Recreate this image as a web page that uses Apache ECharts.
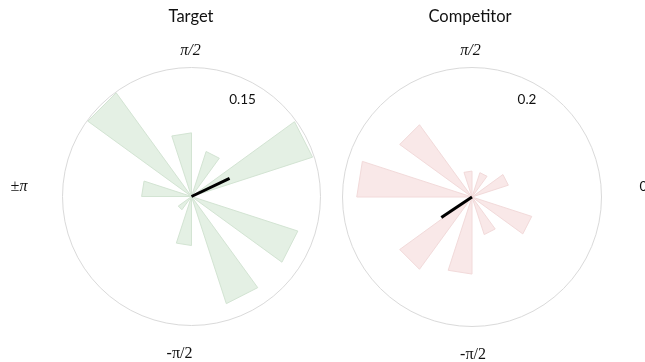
<!DOCTYPE html>
<html>
<head>
<meta charset="utf-8">
<script src="https://cdn.jsdelivr.net/npm/echarts@6/dist/echarts.min.js"></script>
<style>
html,body{margin:0;padding:0;background:#fff;}
#chart{width:645px;height:362px;}
</style>
</head>
<body>
<div id="chart"></div>
<script>
// Bin start angles in degrees (counter-clockwise from 0 = east), 18° wide
const binStarts = [0,18,36,54,72,90,108,126,144,162,180,198,216,234,252,270,288,306,324,342];
const binWidth = 18;
// Relative frequencies per bin
const targetValues     = [0,0.148,0,0.055,0,0.074,0,0.149,0,0.058,0,0,0.019,0,0.057,0,0.131,0,0.130,0];
const competitorValues = [0,0.059,0,0.0395,0,0.040,0,0.138,0,0.178,0,0,0.138,0,0.119,0,0.061,0,0.097,0];
// Mean resultant vectors: [length, angle in degrees]
const targetMean = [0.049, 25.4];
const competitorMean = [0.057, 213.8];
const panelTitles = ['Target', 'Competitor'];
const radiusMax = [0.15, 0.2];
const radiusLabels = ['0.15', '0.2'];
const angleLabels = {top: 'π/2', bottom: '-π/2', left: '±π', right: '0'};

function wedgeData(values) {
  return values.map((v, i) => [v, binStarts[i], binStarts[i] + binWidth]).filter(d => d[0] > 0);
}

function wedgeSeries(polarIndex, values, fill, stroke) {
  return {
    type: 'custom',
    coordinateSystem: 'polar',
    polarIndex: polarIndex,
    data: wedgeData(values),
    renderItem: function (params, api) {
      const r = api.value(0), a0 = api.value(1), a1 = api.value(2);
      const c = api.coord([0, a0]);
      const p1 = api.coord([r, a0]);
      const p2 = api.coord([r, a1]);
      return {
        type: 'polygon',
        shape: {points: [c, p1, p2]},
        style: {fill: fill, stroke: stroke, lineWidth: 1}
      };
    },
    silent: true,
    z: 2
  };
}

function meanSeries(polarIndex, mean) {
  return {
    type: 'line',
    coordinateSystem: 'polar',
    polarIndex: polarIndex,
    data: [[0, mean[1]], [mean[0], mean[1]]],
    symbol: 'none',
    lineStyle: {color: '#000', width: 3},
    silent: true,
    z: 5
  };
}

const centers = [[191.5, 196.5], [472, 197]];
const radii = [129, 129.5];

const chart = echarts.init(document.getElementById('chart'), null, {renderer: 'canvas'});
const textColor = '#111';
const sansFont = 'Lato, "Open Sans", sans-serif';
const serifFont = '"Liberation Serif", "DejaVu Serif", serif';

function txt(text, x, y, font, align) {
  return {
    type: 'text',
    x: x, y: y,
    style: {text: text, fill: textColor, font: font, textAlign: align || 'center', textVerticalAlign: 'middle'},
    z: 10
  };
}

const option = {
  animation: false,
  backgroundColor: '#fff',
  polar: centers.map((c, i) => ({center: c, radius: radii[i]})),
  angleAxis: [0, 1].map(i => ({
    polarIndex: i,
    type: 'value',
    min: 0, max: 360,
    startAngle: 0,
    clockwise: false,
    axisLine: {show: true, lineStyle: {color: '#dadada', width: 1}},
    axisTick: {show: false},
    axisLabel: {show: false},
    splitLine: {show: false}
  })),
  radiusAxis: [0, 1].map(i => ({
    polarIndex: i,
    type: 'value',
    min: 0, max: radiusMax[i],
    axisLine: {show: false},
    axisTick: {show: false},
    axisLabel: {show: false},
    splitLine: {show: false}
  })),
  series: [
    wedgeSeries(0, targetValues, '#e4f0e4', '#d3e4d3'),
    wedgeSeries(1, competitorValues, '#f9e8e8', '#f2dada'),
    meanSeries(0, targetMean),
    meanSeries(1, competitorMean)
  ],
  graphic: [
    txt(panelTitles[0], 191, 17, '16.5px ' + sansFont),
    txt(panelTitles[1], 470, 17, '16.5px ' + sansFont),
    txt(angleLabels.top, 190.5, 51, 'italic 16px ' + serifFont),
    txt(angleLabels.top, 470.5, 51, 'italic 16px ' + serifFont),
    txt(angleLabels.bottom, 179.5, 354, '16px ' + serifFont),
    txt(angleLabels.bottom, 473, 355, '16px ' + serifFont),
    txt(angleLabels.left, 19, 187, 'italic 16px ' + serifFont),
    txt(angleLabels.right, 639.5, 187, '13.5px ' + sansFont, 'left'),
    txt(radiusLabels[0], 242.5, 100, '13.5px ' + sansFont),
    txt(radiusLabels[1], 527, 100, '13.5px ' + sansFont)
  ]
};
chart.setOption(option);
</script>
</body>
</html>
